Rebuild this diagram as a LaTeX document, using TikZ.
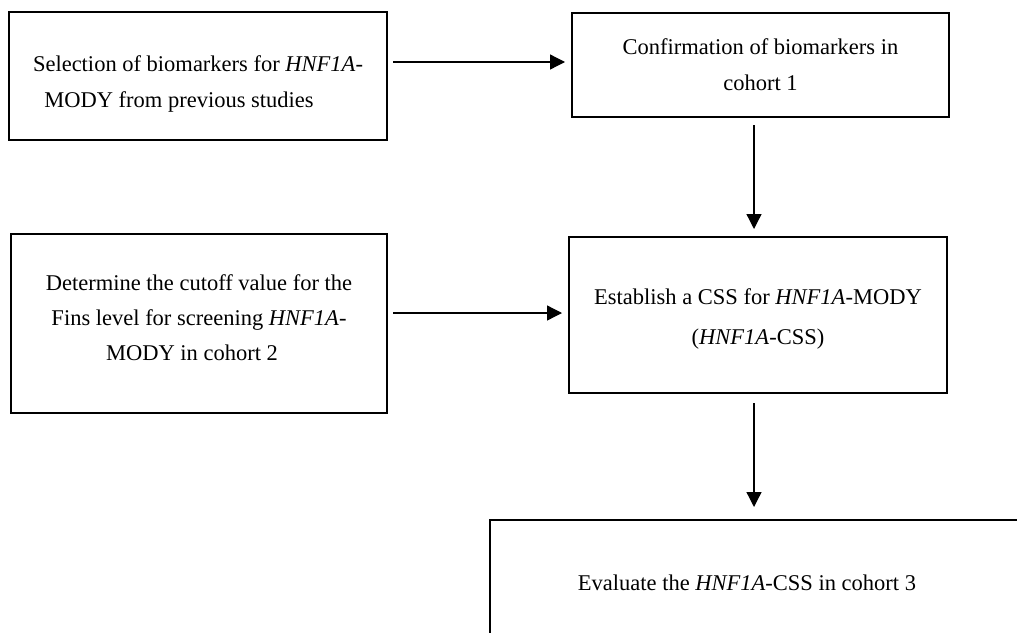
\documentclass[tikz,border=0pt]{standalone}
\usepackage{fontspec}
\setmainfont{Liberation Serif}
\usetikzlibrary{arrows.meta}
\begin{document}
\begin{tikzpicture}[x=1pt,y=-1pt,
  box/.style={draw=black, line width=2pt, rectangle, align=center, inner sep=0pt,
    font=\fontsize{22.5pt}{36pt}\selectfont},
  arr/.style={line width=1.3pt, -{Triangle[length=15pt,width=15pt]}},
  lbl/.style={font=\fontsize{22.5pt}{36pt}\selectfont, inner sep=0pt}]
\useasboundingbox (0,0) rectangle (1017,632);
\clip (0,0) rectangle (1017,632);
\fill[white] (0,0) rectangle (1017,632);
\node[box, minimum width=378pt, minimum height=128pt] (b1) at (198,76)
  {\rule{0pt}{31pt}Selection of biomarkers for \textit{HNF1A}-\\MODY from previous studies\hspace*{38pt}};
\node[box, minimum width=377pt, minimum height=104pt] (b2) at (760.5,65)
  {Confirmation of biomarkers in\\cohort 1};
\node[box, minimum width=376pt, minimum height=179pt] (b3) at (199,323.5)
  {Determine the cutoff value for the\\[-1pt]Fins level for screening \textit{HNF1A}-\hspace*{30pt}\\[-1pt]MODY in cohort 2\hspace*{14pt}\rule[-11pt]{0pt}{1pt}};
\node[box, minimum width=378pt, minimum height=156pt] (b4) at (758,315)
  {\rule{0pt}{24pt}Establish a CSS for \textit{HNF1A}-MODY\\[4pt](\textit{HNF1A}-CSS)};
\node[box, minimum width=560pt, minimum height=160pt, anchor=north west] (b5) at (489,519) {};
\node[lbl] (t5) at (747,583) {Evaluate the \textit{HNF1A}-CSS in cohort 3};
\coordinate (vx) at (754,0);
\draw[arr, shorten <=5pt, shorten >=6pt] (b1.east |- 0,62) -- (b2.west |- 0,62);
\draw[arr, shorten <=5pt, shorten >=6pt] (b3.east |- 0,313) -- (b4.west |- 0,313);
\draw[arr, shorten <=7pt, shorten >=7pt] (b2.south -| vx) -- (b4.north -| vx);
\draw[arr, shorten <=9pt, shorten >=12pt] (b4.south -| vx) -- (b5.north -| vx);
\end{tikzpicture}
\end{document}
